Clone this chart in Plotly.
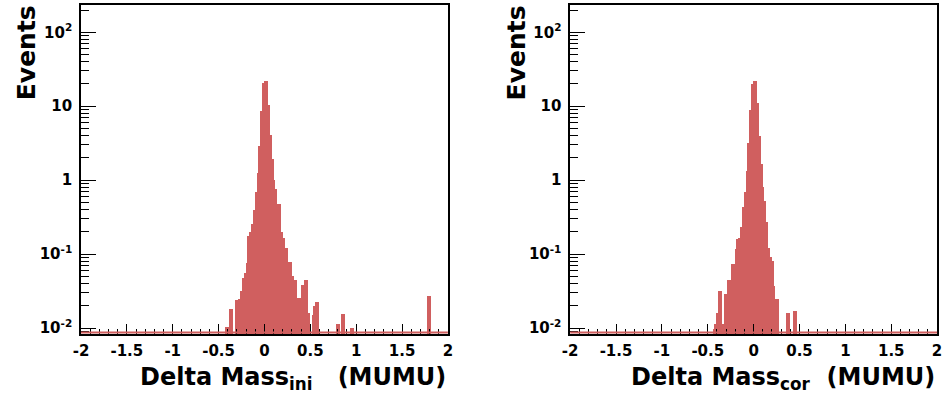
import numpy as np
import plotly.graph_objects as go

# ---------------- data ----------------
x_min, x_max, n_bins = -2.0, 2.0, 200

# left panel: Delta Mass_ini, consecutive bins starting at bin index 79
ini_start = 79
ini_values = [0.0105, 0.0105, 0.018, 0.018, 0.0, 0.024, 0.024, 0.025, 0.032, 0.048,
              0.055, 0.075, 0.175, 0.20, 0.26, 0.39, 0.69, 1.26, 2.93, 8.5,
              20.5, 21.8, 21.8, 10.5, 4.05, 1.94, 1.02, 0.77, 0.47, 0.47,
              0.197, 0.167, 0.12, 0.12, 0.078, 0.078, 0.05, 0.045, 0.045, 0.0257,
              0.0257, 0.038, 0.038, 0.0445, 0.0445, 0.0161, 0.0, 0.015, 0.0198, 0.0226,
              0.0226]
ini_outlier_bins = [139, 140, 142, 143, 147, 148, 189, 190]
ini_outlier_vals = [0.0115, 0.0115, 0.0157, 0.0157, 0.0100, 0.0100, 0.027, 0.027]

# right panel: Delta Mass_cor, consecutive bins starting at bin index 78
cor_start = 78
cor_values = [0.0098, 0.0115, 0.016, 0.032, 0.032, 0.0115, 0.029, 0.029, 0.045, 0.045,
              0.073, 0.073, 0.117, 0.159, 0.167, 0.235, 0.437, 0.69, 1.35, 3.18,
              8.8, 20.0, 22.2, 22.2, 11.1, 4.0, 1.66, 0.81, 0.52, 0.275,
              0.12, 0.092, 0.08, 0.037, 0.025, 0.025, 0.0, 0.0, 0.0, 0.0,
              0.0162, 0.0162, 0.0, 0.0, 0.0172, 0.0172]

x_tick_vals = [-2, -1.5, -1, -0.5, 0, 0.5, 1, 1.5, 2]
x_tick_text = ["-2", "-1.5", "-1", "-0.5", "0", "0.5", "1", "1.5", "2"]
y_tick_vals = [0.01, 0.1, 1, 10, 100]
y_tick_text = ["10<sup>-2</sup>", "10<sup>-1</sup>", "1", "10", "10<sup>2</sup>"]
y_min, y_max = 0.0082, 234.0

# ---------------- build ----------------
bin_width = (x_max - x_min) / n_bins
centers = x_min + bin_width * (np.arange(n_bins) + 0.5)


def build(start, values, extra_bins=(), extra_vals=()):
    c = np.zeros(n_bins)
    c[start:start + len(values)] = values
    for k, v in zip(extra_bins, extra_vals):
        c[k] = v
    return c


ini_counts = build(ini_start, ini_values, ini_outlier_bins, ini_outlier_vals)
cor_counts = build(cor_start, cor_values)

RED = "#d05f5f"
FONT = "DejaVu Sans"

fig = go.Figure()
for counts, xa, ya in [(ini_counts, "x", "y"), (cor_counts, "x2", "y2")]:
    m = counts > 0
    fig.add_trace(go.Bar(x=centers[m], y=counts[m], width=bin_width,
                         marker=dict(color=RED, line=dict(width=0)),
                         xaxis=xa, yaxis=ya, showlegend=False, hoverinfo="x+y"))

W, H = 949, 402
xdom1 = [74 / W, 446 / W]
xdom2 = [570 / W, 942 / W]
ydom = [(H - 337) / H, (H - 5) / H]

minor_x = [round(-2 + 0.1 * i, 2) for i in range(41)]
minor_y = [m * 10.0 ** e for e in range(-3, 3) for m in range(2, 10)]

tickfont = dict(family=FONT, size=15, color="black", weight="bold")

common_x = dict(range=[x_min, x_max], showline=True, linecolor="black", linewidth=1.5,
                mirror=True, ticks="inside", ticklen=11, tickwidth=1, tickcolor="black",
                tickmode="array", tickvals=x_tick_vals, ticktext=x_tick_text,
                minor=dict(tickmode="array", tickvals=minor_x, ticks="inside", ticklen=6,
                           tickwidth=1, tickcolor="black", showgrid=False),
                showgrid=False, zeroline=False, tickfont=tickfont, ticklabelstandoff=2,
                fixedrange=True)
common_y = dict(type="log", range=[np.log10(y_min), np.log10(y_max)], showline=True,
                linecolor="black", linewidth=1.5, mirror=True, ticks="inside", ticklen=15,
                tickwidth=1, tickcolor="black", tickmode="array", tickvals=y_tick_vals,
                ticktext=y_tick_text,
                minor=dict(tickmode="array", tickvals=minor_y, ticks="inside", ticklen=8,
                           tickwidth=1, tickcolor="black", showgrid=False),
                showgrid=False, zeroline=False, tickfont=tickfont, ticklabelstandoff=4,
                fixedrange=True)

fig.update_layout(
    width=W, height=H, margin=dict(l=0, r=0, t=0, b=0),
    paper_bgcolor="white", plot_bgcolor="white", bargap=0,
    xaxis=dict(domain=xdom1, anchor="y", **common_x),
    yaxis=dict(domain=ydom, anchor="x", **common_y),
    xaxis2=dict(domain=xdom2, anchor="y2", **common_x),
    yaxis2=dict(domain=ydom, anchor="x2", **common_y),
)

# red baseline along the bottom of each frame (ROOT draws empty bins at the minimum)
for xr, yr in [("x domain", "y domain"), ("x2 domain", "y2 domain")]:
    fig.add_shape(type="line", xref=xr, yref=yr, x0=0, x1=1, y0=0.006, y1=0.006,
                  line=dict(color=RED, width=2))

xtitlefont = dict(family=FONT, size=24, color="black", weight="bold")
ytitlefont = dict(family=FONT, size=25, color="black", weight="bold")
for xr, sub, nsp in [("x domain", "ini", 3), ("x2 domain", "cor", 2)]:
    sp = "&nbsp;" * nsp
    fig.add_annotation(text=f"Delta Mass<sub>{sub}</sub>{sp}(MUMU)", xref=xr, yref="paper",
                       x=1, y=(H - 364) / H, xanchor="right", yanchor="top",
                       showarrow=False, font=xtitlefont)
for xpx in [19, 516]:
    fig.add_annotation(text="Events", xref="paper", yref="paper", x=xpx / W, y=(H - 3) / H,
                       xanchor="center", yanchor="top", textangle=-90, showarrow=False,
                       font=ytitlefont)

fig.write_html("out.html")
